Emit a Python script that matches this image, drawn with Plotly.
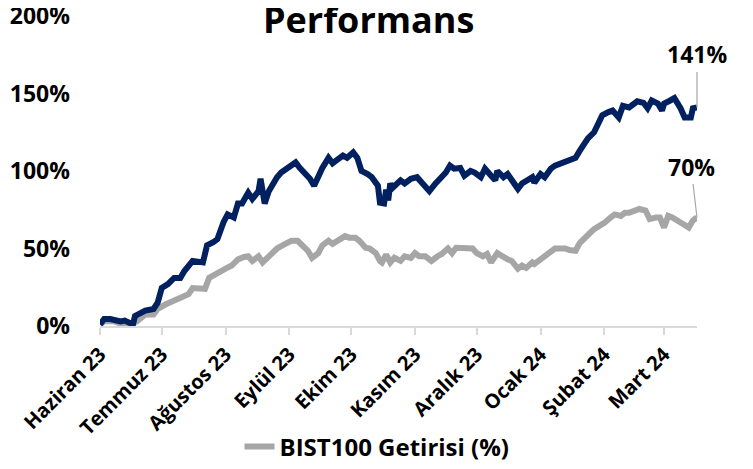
import plotly.graph_objects as go

# ---- Data ----
stock_dates = [
    "2023-06-01", "2023-06-03", "2023-06-06", "2023-06-08", "2023-06-11", "2023-06-13", "2023-06-17", "2023-06-18",
    "2023-06-23", "2023-06-27", "2023-06-29", "2023-07-01", "2023-07-04", "2023-07-07", "2023-07-10", "2023-07-12",
    "2023-07-16", "2023-07-21", "2023-07-23", "2023-07-26", "2023-07-28", "2023-07-31", "2023-08-02", "2023-08-05",
    "2023-08-07", "2023-08-09", "2023-08-12", "2023-08-14", "2023-08-17", "2023-08-18", "2023-08-20", "2023-08-22",
    "2023-08-24", "2023-08-26", "2023-08-28", "2023-08-31", "2023-09-04", "2023-09-06", "2023-09-09", "2023-09-11",
    "2023-09-13", "2023-09-15", "2023-09-17", "2023-09-20", "2023-09-22", "2023-09-24", "2023-09-27", "2023-09-29",
    "2023-10-02", "2023-10-04", "2023-10-06", "2023-10-09", "2023-10-11", "2023-10-14", "2023-10-15", "2023-10-17",
    "2023-10-18", "2023-10-19", "2023-10-20", "2023-10-21", "2023-10-25", "2023-10-27", "2023-10-30", "2023-11-02",
    "2023-11-04", "2023-11-08", "2023-11-11", "2023-11-13", "2023-11-16", "2023-11-18", "2023-11-20", "2023-11-23",
    "2023-11-25", "2023-11-28", "2023-11-30", "2023-12-03", "2023-12-05", "2023-12-08", "2023-12-10", "2023-12-11",
    "2023-12-14", "2023-12-16", "2023-12-19", "2023-12-21", "2023-12-23", "2023-12-25", "2023-12-28", "2023-12-29",
    "2024-01-01", "2024-01-03", "2024-01-06", "2024-01-08", "2024-01-11", "2024-01-13", "2024-01-15", "2024-01-18",
    "2024-01-20", "2024-01-22", "2024-01-24", "2024-01-27", "2024-01-28", "2024-01-30", "2024-01-31", "2024-02-03",
    "2024-02-05", "2024-02-08", "2024-02-10", "2024-02-13", "2024-02-15", "2024-02-17", "2024-02-20", "2024-02-22",
    "2024-02-24", "2024-02-27", "2024-02-29", "2024-03-01", "2024-03-04", "2024-03-06", "2024-03-09", "2024-03-11",
    "2024-03-14", "2024-03-15", "2024-03-17",
]
stock_values = [
    1, 4.5, 4.5, 4, 3, 3.5, 1, 6.5,
    10, 11, 15, 24.5, 27, 31, 31, 35.5,
    42, 41, 52, 54, 56, 67, 72, 70,
    79, 79, 86, 82, 87, 95, 79, 87,
    92, 96, 99, 101.5, 105.5, 102, 98, 95,
    90.5, 97, 102, 108.5, 105, 107, 110, 108.5,
    112, 108.5, 100, 98, 96, 90.5, 79.5, 79,
    88, 81, 92, 89, 94, 92, 95, 96,
    92.5, 87, 92, 95, 99, 103.5, 101.5, 102,
    97, 100, 99, 96, 101.5, 97, 94, 100,
    96, 98, 92, 88.5, 92, 94, 96, 92.5,
    98, 96, 101.5, 103.5, 105, 105.5, 107, 108.5,
    113, 117.5, 121, 125, 127.5, 132.5, 136, 138,
    139, 134.5, 142, 141, 143.5, 145, 144, 140.5,
    145.5, 143.5, 139, 143.5, 145.5, 147, 140.5, 134.5,
    134.5, 140.5, 141,
]

bist_dates = [
    "2023-06-01", "2023-06-03", "2023-06-06", "2023-06-08", "2023-06-11", "2023-06-16", "2023-06-19", "2023-06-23",
    "2023-06-27", "2023-06-29", "2023-07-03", "2023-07-06", "2023-07-10", "2023-07-14", "2023-07-16", "2023-07-20",
    "2023-07-22", "2023-07-24", "2023-07-28", "2023-08-01", "2023-08-04", "2023-08-07", "2023-08-10", "2023-08-12",
    "2023-08-14", "2023-08-17", "2023-08-19", "2023-08-22", "2023-08-24", "2023-08-26", "2023-08-30", "2023-09-02",
    "2023-09-05", "2023-09-07", "2023-09-10", "2023-09-12", "2023-09-15", "2023-09-17", "2023-09-20", "2023-09-22",
    "2023-09-25", "2023-09-28", "2023-09-30", "2023-10-03", "2023-10-05", "2023-10-08", "2023-10-10", "2023-10-13",
    "2023-10-15", "2023-10-16", "2023-10-18", "2023-10-20", "2023-10-22", "2023-10-25", "2023-10-27", "2023-10-30",
    "2023-11-01", "2023-11-03", "2023-11-06", "2023-11-09", "2023-11-12", "2023-11-14", "2023-11-17", "2023-11-19",
    "2023-11-21", "2023-11-24", "2023-11-26", "2023-11-29", "2023-12-01", "2023-12-04", "2023-12-06", "2023-12-08",
    "2023-12-11", "2023-12-13", "2023-12-16", "2023-12-18", "2023-12-21", "2023-12-23", "2023-12-25", "2023-12-28",
    "2023-12-29", "2024-01-01", "2024-01-03", "2024-01-06", "2024-01-08", "2024-01-11", "2024-01-13", "2024-01-15",
    "2024-01-18", "2024-01-20", "2024-01-23", "2024-01-25", "2024-01-27", "2024-01-30", "2024-02-01", "2024-02-04",
    "2024-02-06", "2024-02-09", "2024-02-11", "2024-02-13", "2024-02-16", "2024-02-18", "2024-02-21", "2024-02-23",
    "2024-02-26", "2024-02-28", "2024-03-01", "2024-03-03", "2024-03-05", "2024-03-08", "2024-03-10", "2024-03-13",
    "2024-03-15", "2024-03-17",
]
bist_values = [
    1, 3, 3, 3, 1.5, 1, 3, 7.5,
    7.5, 11, 14, 16, 18, 20.5, 24.5, 24.5,
    24, 31, 33.5, 37, 39, 43, 44.5, 45,
    42, 45, 41, 45, 48.5, 50, 53, 55,
    55, 52, 48.5, 44, 47, 52, 55, 53,
    56, 58, 57, 57, 55, 50.5, 50, 47,
    42, 41, 46, 41, 44, 42, 45, 44,
    47, 45, 45, 42, 45, 46.5, 50, 47,
    50.5, 50, 50.5, 50, 47, 45, 46.5, 41,
    47, 45, 43, 42, 37, 39, 37.5, 41,
    40, 43, 45, 47, 50, 50, 50, 49,
    48.5, 53.5, 58, 60, 62.5, 64.5, 66.5, 70,
    72, 71, 73, 73, 74.5, 75.5, 74.5, 69,
    70, 70, 63.5, 71, 70, 68, 66, 63.5,
    68, 70,
]

month_ticks = ["2023-06-01", "2023-07-01", "2023-08-01", "2023-09-01", "2023-10-01",
               "2023-11-01", "2023-12-01", "2024-01-01", "2024-02-01", "2024-03-01"]
month_labels = ["Haziran 23", "Temmuz 23", "Ağustos 23", "Eylül 23", "Ekim 23",
                "Kasım 23", "Aralık 23", "Ocak 24", "Şubat 24", "Mart 24"]
y_ticks = [0, 50, 100, 150, 200]

NAVY = "#002060"
GREY = "#A6A6A6"
FONT = "Open Sans"

fig = go.Figure()
fig.add_trace(go.Scatter(x=bist_dates, y=bist_values, mode="lines", name="<b>BIST100 Getirisi (%)</b>",
                         line=dict(color=GREY, width=6), showlegend=True))
fig.add_trace(go.Scatter(x=stock_dates, y=stock_values, mode="lines", name="Hisse Getirisi (%)",
                         line=dict(color=NAVY, width=6), showlegend=False))

fig.add_annotation(x=stock_dates[-1], y=stock_values[-1], text=f"<b>{stock_values[-1]:.0f}%</b>",
                   showarrow=True, arrowhead=0, arrowwidth=1.2, arrowcolor="#A6A6A6",
                   ax=0, ay=-53, font=dict(size=23, color="black", family=FONT))
fig.add_annotation(x=bist_dates[-1], y=bist_values[-1], text=f"<b>{bist_values[-1]:.0f}%</b>",
                   showarrow=True, arrowhead=0, arrowwidth=1.2, arrowcolor="#A6A6A6",
                   ax=-6, ay=-51, font=dict(size=23, color="black", family=FONT))

fig.update_layout(
    width=753, height=469,
    margin=dict(l=92, r=64, t=8, b=138),
    paper_bgcolor="white", plot_bgcolor="white",
    font=dict(family=FONT, color="black"),
    title=dict(text="<b>Performans</b>", x=0.479, xanchor="center", y=1.0, yanchor="top",
               yref="container", pad=dict(t=0, b=0), font=dict(size=36, family=FONT, color="black")),
    legend=dict(orientation="h", x=0.464, xanchor="center", y=-0.39, yanchor="middle",
                font=dict(size=24, family=FONT, color="black"), bgcolor="rgba(0,0,0,0)"),
    showlegend=True,
)
fig.update_xaxes(
    type="date", range=["2023-06-01", "2024-03-17"],
    tickmode="array", tickvals=month_ticks, ticktext=[f"<b>{t}</b>" for t in month_labels],
    tickangle=-45, tickfont=dict(size=20, family=FONT, color="black"),
    showline=True, linecolor="#D9D9D9", linewidth=1.5,
    ticks="outside", ticklen=7, tickcolor="#D9D9D9", tickwidth=1.5,
    showgrid=False, zeroline=False, automargin=False,
)
fig.update_yaxes(
    range=[0, 200], tickmode="array", tickvals=y_ticks,
    ticktext=[f"<b>{v}%</b>" for v in y_ticks],
    tickfont=dict(size=23, family=FONT, color="black"),
    showgrid=False, zeroline=False, showline=False, ticks="", ticklabelstandoff=29,
    ticklabeloverflow="allow", automargin=False,
)

fig.write_html("out.html")
